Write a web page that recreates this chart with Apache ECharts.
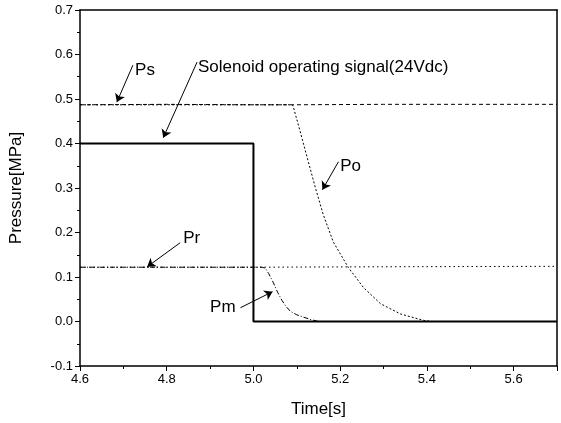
<!DOCTYPE html>
<html>
<head>
    <meta charset="utf-8">
    <title>Pressure response</title>
    <script src="https://cdn.jsdelivr.net/npm/echarts@6/dist/echarts.min.js"></script>
</head>
<body style="margin:0;background:#fff;">
    <div id="main" style="width:561px;height:423px;"></div>
    <script type="text/javascript">
        // curves: [time s, pressure MPa]
        var solenoid = [[4.6, 0.4], [5.0, 0.4], [5.0, 0.0], [5.7, 0.0]];
        var ps = [[4.6, 0.487], [4.8, 0.488], [5.0, 0.487], [5.09, 0.487], [5.3, 0.488], [5.5, 0.488], [5.7, 0.488]];
        var po = [[4.6, 0.487], [5.09, 0.487], [5.092, 0.482], [5.108, 0.426], [5.124, 0.368], [5.143, 0.300],
            [5.161, 0.240], [5.184, 0.179], [5.219, 0.121], [5.254, 0.076], [5.293, 0.040], [5.339, 0.017],
            [5.39, 0.003], [5.41, 0.0], [5.7, 0.0]];
        var pr = [[4.6, 0.122], [5.0, 0.122], [5.3, 0.123], [5.7, 0.124]];
        var pm = [[4.6, 0.122], [5.02, 0.122], [5.027, 0.120], [5.035, 0.108], [5.046, 0.087], [5.056, 0.065],
            [5.066, 0.047], [5.075, 0.034], [5.085, 0.023], [5.10, 0.015], [5.115, 0.010], [5.13, 0.005], [5.15, 0.0]];

        // annotation texts and arrows (data coords)
        var notes = [
            { text: 'Ps', at: [4.727, 0.565], from: [4.722, 0.576], to: [4.685, 0.493] },
            { text: 'Solenoid operating signal(24Vdc)', at: [4.872, 0.572], from: [4.870, 0.583], to: [4.792, 0.413] },
            { text: 'Po', at: [5.200, 0.348], from: [5.196, 0.359], to: [5.159, 0.296] },
            { text: 'Pr', at: [4.838, 0.188], from: [4.831, 0.177], to: [4.755, 0.123] },
            { text: 'Pm', at: [4.900, 0.031], from: [4.970, 0.031], to: [5.044, 0.067] }
        ];

        var dom = document.getElementById('main');
        var myChart = echarts.init(dom, null, { renderer: 'canvas' });
        var font = 'Liberation Sans';

        function lineSeries(name, data, width, dash) {
            return {
                name: name,
                type: 'line',
                data: data,
                showSymbol: false,
                symbol: 'none',
                animation: false,
                lineStyle: { color: '#000', width: width, type: dash }
            };
        }

        var axisBase = {
            axisLine: { show: true, onZero: false, lineStyle: { color: '#000', width: 1.5 } },
            axisTick: { show: true, inside: false, length: 5, lineStyle: { color: '#000', width: 1 } },
            minorTick: { show: true, splitNumber: 2, length: 3, lineStyle: { color: '#000', width: 1 } },
            splitLine: { show: false }
        };

        var main = lineSeries('Solenoid', solenoid, 2, 'solid');
        main.markLine = {
            silent: true,
            animation: false,
            symbol: ['none', 'arrow'],
            symbolSize: 8,
            label: { show: false },
            lineStyle: { color: '#000', width: 1, type: 'solid' },
            itemStyle: { color: '#000' },
            data: notes.map(function (n) {
                return [{ coord: n.from }, { coord: n.to }];
            })
        };
        main.markPoint = {
            silent: true,
            animation: false,
            symbol: 'circle',
            symbolSize: 0,
            data: notes.map(function (n) {
                return {
                    coord: n.at,
                    label: {
                        show: true, formatter: n.text, position: 'right', distance: 0,
                        color: '#000', fontFamily: font, fontSize: 17
                    }
                };
            })
        };

        var option = {
            backgroundColor: '#fff',
            animation: false,
            grid: { left: 80, right: 4, top: 10, bottom: 56 },
            xAxis: [
                Object.assign({}, axisBase, {
                    type: 'value', min: 4.6, max: 5.7, interval: 0.2,
                    name: 'Time[s]', nameLocation: 'middle', nameGap: 35,
                    nameTextStyle: { color: '#000', fontFamily: font, fontSize: 17 },
                    axisLabel: {
                        color: '#000', fontFamily: font, fontSize: 13, margin: 7,
                        formatter: function (v) { return Math.abs(v - 5.7) < 1e-6 ? '' : v.toFixed(1); }
                    }
                }),
                Object.assign({}, axisBase, {
                    type: 'value', min: 4.6, max: 5.7, interval: 0.2, position: 'top',
                    axisTick: { show: false }, minorTick: { show: false }, axisLabel: { show: false }
                })
            ],
            yAxis: [
                Object.assign({}, axisBase, {
                    type: 'value', min: -0.1, max: 0.7, interval: 0.1,
                    name: 'Pressure[MPa]', nameLocation: 'middle', nameGap: 55,
                    nameTextStyle: { color: '#000', fontFamily: font, fontSize: 17 },
                    axisLabel: {
                        color: '#000', fontFamily: font, fontSize: 13, margin: 7,
                        formatter: function (v) { return v.toFixed(1); }
                    }
                }),
                Object.assign({}, axisBase, {
                    type: 'value', min: -0.1, max: 0.7, interval: 0.1, position: 'right',
                    axisTick: { show: false }, minorTick: { show: false }, axisLabel: { show: false }
                })
            ],
            series: [
                lineSeries('Ps', ps, 1, [4, 3]),
                lineSeries('Po', po, 1, [2, 2]),
                lineSeries('Pr', pr, 1, [1.5, 3]),
                lineSeries('Pm', pm, 1, [5, 2, 1, 2]),
                main
            ]
        };

        if (option && typeof option === 'object') {
            myChart.setOption(option, true);
        }
    </script>
</body>
</html>
